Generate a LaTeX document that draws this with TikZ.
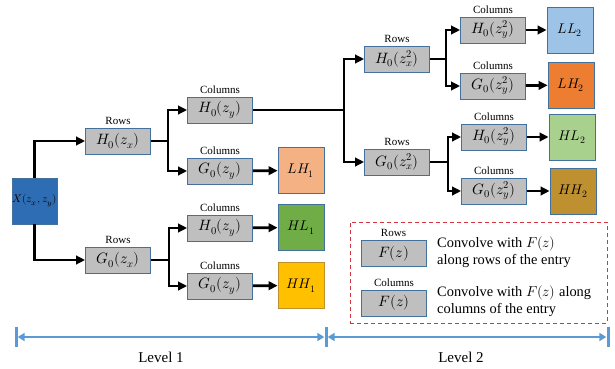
\documentclass[tikz,border=0pt]{standalone}
\usepackage{fontspec}
\usepackage{unicode-math}
\setmainfont{Liberation Serif}
\setmathfont{Latin Modern Math}
\usetikzlibrary{arrows.meta}
\definecolor{xblue}{HTML}{2E6DB4}
\definecolor{fgray}{HTML}{BFBFBF}
\definecolor{fedge}{HTML}{41719C}
\definecolor{clhA}{HTML}{F4B183}
\definecolor{chlA}{HTML}{70AD47}
\definecolor{chhA}{HTML}{FFC000}
\definecolor{cllB}{HTML}{9DC3E6}
\definecolor{clhB}{HTML}{ED7D31}
\definecolor{chlB}{HTML}{A9D18E}
\definecolor{chhB}{HTML}{BF9030}
\definecolor{axblue}{HTML}{5B9BD5}
\definecolor{legred}{HTML}{D6343F}
\begin{document}
\begin{tikzpicture}[x=1pt,y=-1pt,
  filt/.style={draw=fedge,line width=0.8pt,fill=fgray,minimum width=65pt,minimum height=26pt,inner sep=0pt,font=\fontsize{15}{16}\selectfont},
  outb/.style={draw=fedge,line width=0.8pt,minimum width=46pt,minimum height=46pt,inner sep=0pt,font=\fontsize{14}{15}\selectfont},
  lab/.style={font=\fontsize{11}{12}\selectfont,inner sep=1pt},
  arr/.style={line width=2.8pt,-{Triangle[length=9pt,width=8.5pt]}},
  tick/.style={fill=axblue,minimum width=3pt,minimum height=20pt,inner sep=0pt},
  ax/.style={draw=axblue,line width=2.2pt,{Triangle[length=7pt,width=8pt]}-{Triangle[length=7pt,width=8pt]}}]
  \useasboundingbox (0,0) rectangle (615,369);
  % input
  \node[draw=fedge,fill=xblue,minimum width=45pt,minimum height=46pt,inner sep=0pt,font=\fontsize{11}{12}\selectfont] (X) at (34.5,201){$X(z_x,z_y)$};
  % level 1
  \node[filt,label={[lab,label distance=2pt]above:Rows}] (hx) at (118,141){$H_0(z_x)$};
  \node[filt,label={[lab,label distance=2pt]above:Rows}] (gx) at (118,260){$G_0(z_x)$};
  \node[filt,label={[lab,label distance=2pt]above:Columns}] (hy1) at (220,110){$H_0(z_y)$};
  \node[filt,label={[lab,label distance=2pt]above:Columns}] (gy1) at (220,171){$G_0(z_y)$};
  \node[filt,label={[lab,label distance=2pt]above:Columns}] (hy2) at (220,228){$H_0(z_y)$};
  \node[filt,label={[lab,label distance=2pt]above:Columns}] (gy2) at (220,286){$G_0(z_y)$};
  \node[outb,fill=clhA] (lh1) at (301,170.5){$LH_1$};
  \node[outb,fill=chlA] (hl1) at (301,227.5){$HL_1$};
  \node[outb,fill=chhA,draw=chhB] (hh1) at (301,285.5){$HH_1$};
  % level 2
  \node[filt,label={[lab,label distance=2pt]above:Rows}] (hx2) at (397,59){$H_0(z_x^2)$};
  \node[filt,label={[lab,label distance=2pt]above:Rows}] (gx2) at (397,162){$G_0(z_x^2)$};
  \node[filt,label={[lab,label distance=2pt]above:Columns}] (hy21) at (493,30){$H_0(z_y^2)$};
  \node[filt,label={[lab,label distance=2pt]above:Columns}] (gy21) at (493,86){$G_0(z_y^2)$};
  \node[filt,label={[lab,label distance=2pt]above:Columns}] (hy22) at (494,137){$H_0(z_y^2)$};
  \node[filt,label={[lab,label distance=2pt]above:Columns}] (gy22) at (494,191){$G_0(z_y^2)$};
  \node[outb,fill=cllB] (ll2) at (570,30){$LL_2$};
  \node[outb,fill=clhB] (lh2) at (571,85){$LH_2$};
  \node[outb,fill=chlB] (hl2) at (572,137){$HL_2$};
  \node[outb,fill=chhB,draw=fedge] (hh2) at (573,191){$HH_2$};
  % connectors
  \draw[arr] (X.north) |- (hx.west);
  \draw[arr] (X.south) |- (gx.west);
  \draw[arr] (hx.east) -- ++(17,0) |- (hy1.west);
  \draw[arr] (hx.east) -- ++(17,0) |- (gy1.west);
  \draw[arr] (gx.east) -- ++(18,0) |- (hy2.west);
  \draw[arr] (gx.east) -- ++(18,0) |- (gy2.west);
  \draw[arr] (gy1) -- (lh1);
  \draw[arr] (hy2) -- (hl1);
  \draw[arr] (gy2) -- (hh1);
  \draw[arr] (hy1.east) -- ++(91,0) |- (hx2.west);
  \draw[arr] (hy1.east) -- ++(91,0) |- (gx2.west);
  \draw[arr] (hx2.east) -- ++(16,0) |- (hy21.west);
  \draw[arr] (hx2.east) -- ++(16,0) |- (gy21.west);
  \draw[arr] (gx2.east) -- ++(18,0) |- (hy22.west);
  \draw[arr] (gx2.east) -- ++(18,0) |- (gy22.west);
  \draw[arr] (hy21) -- (ll2);
  \draw[arr] (gy21) -- (lh2);
  \draw[arr] (hy22) -- (hl2);
  \draw[arr] (gy22) -- (hh2);
  % legend
  \node[draw=legred,line width=1pt,dash pattern=on 4pt off 3pt,minimum width=257pt,minimum height=101pt] (leg) at (478.5,272.5){};
  \node[filt,label={[lab,label distance=2pt]above:Rows}] (frow) at (393.5,253.5){$F(z)$};
  \node[filt,label={[lab,label distance=2pt]above:Columns}] (fcol) at (394,303){$F(z)$};
  \node[anchor=west,align=left,inner sep=0pt,font=\fontsize{14.4}{17.5}\selectfont] (trow) at (437,252){Convolve with $F(z)$\\along rows of the entry};
  \node[anchor=west,align=left,inner sep=0pt,font=\fontsize{14.4}{17.5}\selectfont] (tcol) at (437,301){Convolve with $F(z)$ along\\columns of the entry};
  % levels
  \node[tick] (t0) at (16,337){};
  \node[tick] (t1) at (326,337){};
  \node[tick] (t2) at (608,337){};
  \draw[ax] (t0) -- (t1);
  \draw[ax] (t1) -- (t2);
  \node[font=\fontsize{15}{16}\selectfont] (lv1) at (161,357){Level 1};
  \node[font=\fontsize{15}{16}\selectfont] (lv2) at (461,357){Level 2};
\end{tikzpicture}
\end{document}
